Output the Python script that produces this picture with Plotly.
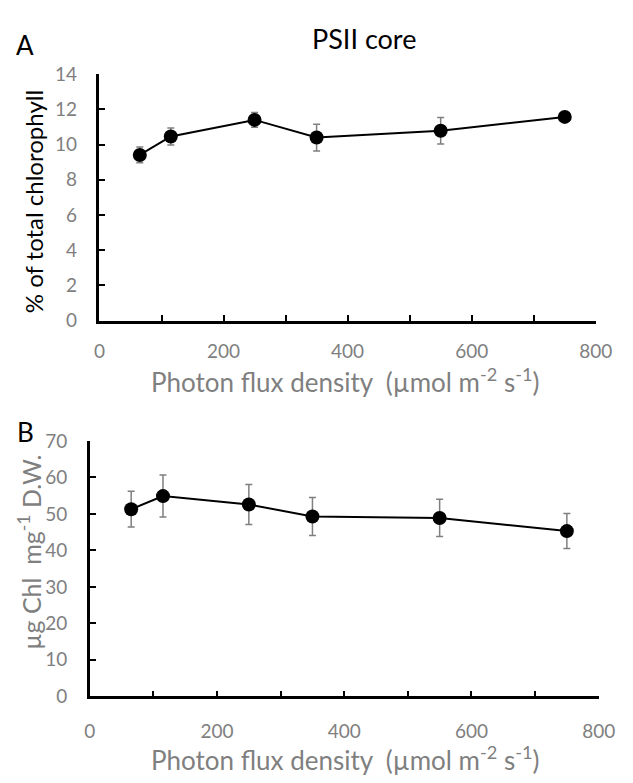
import plotly.graph_objects as go

x_vals = [65, 115, 250, 350, 550, 750]
psii_pct = [9.41, 10.46, 11.40, 10.40, 10.78, 11.57]
psii_pct_err = [0.45, 0.48, 0.42, 0.76, 0.75, 0.27]
chl_dw = [51.3, 54.9, 52.6, 49.3, 48.9, 45.3]
chl_dw_err = [4.9, 5.75, 5.5, 5.2, 5.1, 4.8]

W, H = 633, 783
FONT = "Lato"
GRAY = "#7f7f7f"

def px_x(a, b):
    return [a / W, b / W]

def px_y(top, bottom):
    return [(H - bottom) / H, (H - top) / H]

fig = go.Figure()
for vals, errs, xa, ya in [(psii_pct, psii_pct_err, "x", "y"), (chl_dw, chl_dw_err, "x2", "y2")]:
    fig.add_trace(go.Scatter(
        x=x_vals, y=vals, xaxis=xa, yaxis=ya, mode="lines+markers",
        line=dict(color="black", width=2),
        marker=dict(color="black", size=14),
        error_y=dict(type="data", array=errs, color=GRAY, thickness=1.5, width=3.5),
        showlegend=False, cliponaxis=False,
    ))

axis_common = dict(showline=True, linecolor="black", linewidth=2.5, showgrid=False,
                   zeroline=False, tickfont=dict(family=FONT, size=19, color=GRAY),
                   ticks="inside", ticklen=6, tickwidth=2, tickcolor="black",
                   ticklabeloverflow="allow")
minor_x = dict(tickvals=[100, 300, 500, 700], ticks="inside", ticklen=6, tickwidth=2, tickcolor="black")

fig.update_layout(
    width=W, height=H, margin=dict(l=0, r=0, t=0, b=0),
    plot_bgcolor="white", paper_bgcolor="white",
    xaxis=dict(domain=px_x(97, 612), anchor="y", range=[0, 800], tickvals=[0, 200, 400, 600, 800],
               minor=minor_x, ticklabelstandoff=12, **axis_common),
    yaxis=dict(domain=px_y(64, 318), anchor="x", range=[0, 14], dtick=2,
               ticklabelstandoff=16, **axis_common),
    xaxis2=dict(domain=px_x(87, 615), anchor="y2", range=[0, 800], tickvals=[0, 200, 400, 600, 800],
                minor=minor_x, ticklabelstandoff=16, **axis_common),
    yaxis2=dict(domain=px_y(442, 705), anchor="x2", range=[0, 70], dtick=10,
                ticklabelstandoff=16, **axis_common),
)

def ann(text, x, y, size, color="black", angle=0):
    fig.add_annotation(text=text, x=x / W, y=1 - y / H, xref="paper", yref="paper",
                       showarrow=False, textangle=angle, xanchor="center", yanchor="middle",
                       font=dict(family=FONT, size=size, color=color))

ann("A", 20, 34, 26)
ann("PSII core", 371, 27, 27)
ann("B", 20, 433, 26)
ann("Photon flux density  (µmol m<sup>-2</sup> s<sup>-1</sup>)", 352, 380, 26, GRAY)
ann("Photon flux density  (µmol m<sup>-2</sup> s<sup>-1</sup>)", 352, 769, 26, GRAY)
ann("% of total chlorophyll", 28, 195, 24, "black", -90)
ann("µg Chl  mg<sup>-1</sup> D.W.", 25, 557, 25, GRAY, -90)

fig.write_html("out.html", config={"displayModeBar": False},
               post_script="document.body.style.margin='0';document.body.style.overflow='hidden';")
